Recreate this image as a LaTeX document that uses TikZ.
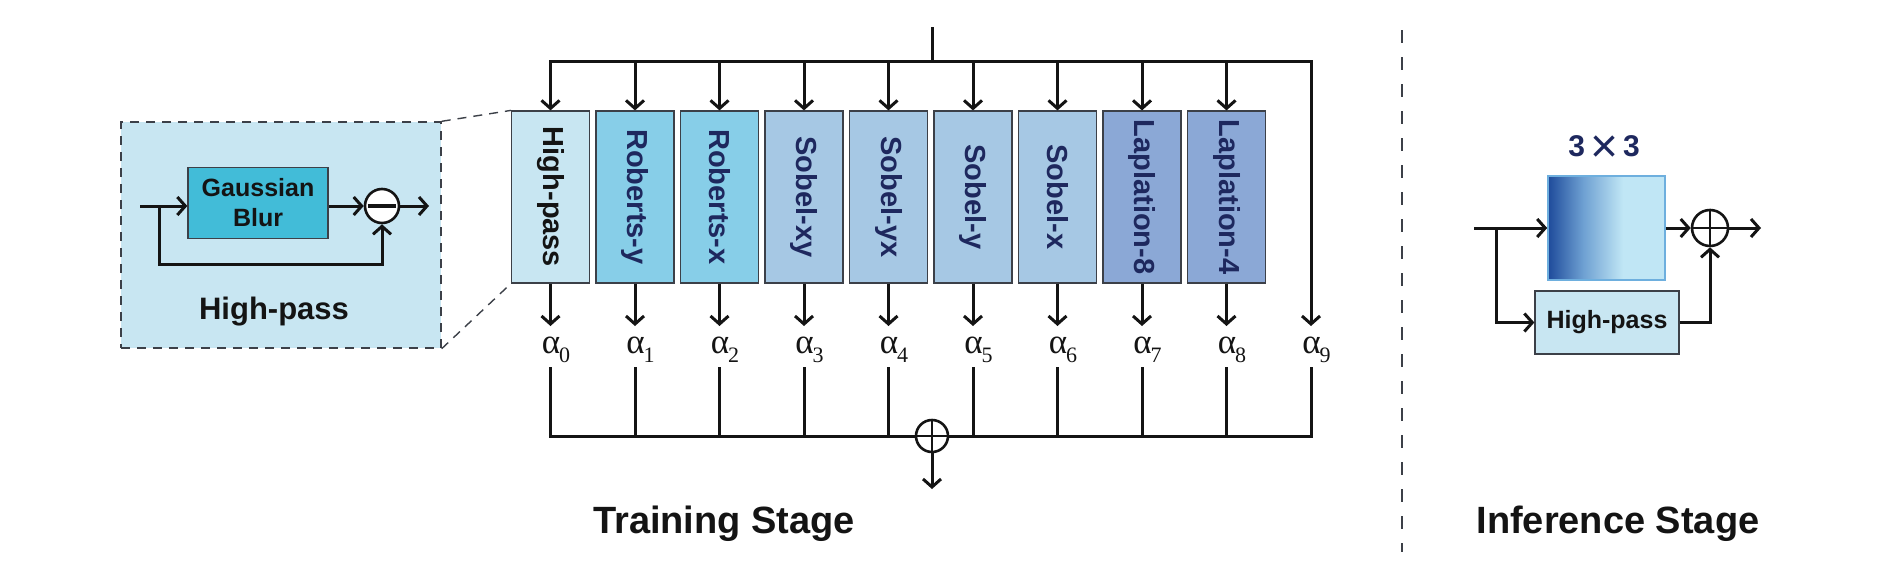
\documentclass[tikz,border=0pt]{standalone}
\usepackage{fontspec}
\usepackage{graphicx}
\setmainfont{Liberation Sans}
\newfontfamily\alphafont{Liberation Serif}
\usetikzlibrary{arrows.meta,calc}
\definecolor{cHP}{RGB}{200,230,242}
\definecolor{cRob}{RGB}{135,206,232}
\definecolor{cSob}{RGB}{166,200,228}
\definecolor{cLap}{RGB}{139,168,214}
\definecolor{cGau}{RGB}{66,188,216}
\definecolor{cNavy}{RGB}{30,40,94}
\definecolor{cInk}{RGB}{20,20,20}
\definecolor{cEdge}{RGB}{60,64,72}
\definecolor{kdark}{RGB}{30,75,155}
\definecolor{kmid}{RGB}{110,160,210}
\definecolor{klight}{RGB}{192,230,245}
\definecolor{kborder}{RGB}{110,175,222}
\pgfdeclarehorizontalshading{kshade}{100bp}{color(0bp)=(kdark); color(25bp)=(kdark); color(40bp)=(kmid); color(57bp)=(klight); color(100bp)=(klight)}
\newcommand\lblfont{\bfseries\fontsize{29}{34}\selectfont}
\newcommand\alphalbl[1]{{\alphafont\fontsize{35}{36}\selectfont α\kern-1pt\rlap{\smash{\raisebox{-9pt}{\fontsize{22}{23}\selectfont #1}}}}}
\begin{document}
\begin{tikzpicture}[x=1pt,y=-1pt,
  ln/.style={line width=3pt, draw=cInk},
  arr/.style={ln, -{Straight Barb[length=8pt,width=18pt]}},
  filt/.style={draw=cEdge, line width=1.2pt, minimum width=78pt, minimum height=172pt, inner sep=0pt, font=\lblfont},
  zoomdash/.style={draw=cEdge, line width=1.4pt, dash pattern=on 9pt off 7pt},
  opcircle/.style={circle, draw=cInk, line width=2.6pt, fill=white, inner sep=0pt},
  title/.style={font=\bfseries\fontsize{38}{44}\selectfont, text=cInk}]
\useasboundingbox (0,0) rectangle (1882,579);

% ---------- left panel (High-pass detail) ----------
\node[draw=cEdge, line width=1.4pt, dash pattern=on 9pt off 7pt, fill=cHP, minimum width=320pt, minimum height=226pt, inner sep=0pt] (panel) at (281,235) {};
\node[draw=cEdge, line width=1.3pt, fill=cGau, minimum width=140pt, minimum height=71pt, inner sep=0pt, align=center, text=cInk, font=\bfseries\fontsize{25}{30}\selectfont] (gauss) at (258,203) {Gaussian\\Blur};
\node[opcircle, minimum size=34pt] (minus) at (382,206) {};
\draw[line width=3.5pt, draw=cInk] ($(minus.west)+(4,0)$) -- ($(minus.east)+(-4,0)$);
\coordinate (lin) at (140,206);
\coordinate (lbr) at (159,206);
\coordinate (lout) at (429,206);
\draw[arr] (lin) -- (gauss.west |- lin);
\draw[arr] (lbr) -- ++(0,58) -| (minus.south);
\draw[arr] (gauss.east |- lin) -- (minus.west);
\draw[arr] (minus.east) -- (lout);
\node[text=cInk, font=\bfseries\fontsize{31}{36}\selectfont] (hplbl) at (274,312) {High-pass};

% ---------- filter bank ----------
\foreach \i/\nm/\fc/\tc in {0/High-pass/cHP/cInk, 1/Roberts-y/cRob/cNavy, 2/Roberts-x/cRob/cNavy, 3/Sobel-xy/cSob/cNavy, 4/Sobel-yx/cSob/cNavy, 5/Sobel-y/cSob/cNavy, 6/Sobel-x/cSob/cNavy, 7/Laplation-8/cLap/cNavy, 8/Laplation-4/cLap/cNavy}{
  \node[filt, fill=\fc, text=\tc] (f\i) at ({550.5+84.5*\i},197) {\rotatebox{-90}{\nm}};
}
\draw[zoomdash] (panel.north east) -- (f0.north west);
\draw[zoomdash] (panel.south east) -- (f0.south west);

% top input bus
\coordinate (inT) at (932,27);
\coordinate (busL) at (550.5,61);
\coordinate (busR) at (1311,61);
\foreach \i/\x in {0/550.5,1/635,2/719.5,3/804,4/888.5,5/973,6/1057.5,7/1142,8/1226.5,9/1311}{
  \coordinate (t\i) at (\x,326);
  \coordinate (s\i) at (\x,367);
  \coordinate (b\i) at (\x,436);
  \node[anchor=base, inner sep=0pt, text=cInk] (a\i) at (\x,353) {\alphalbl{\i}};
}
\draw[ln] (inT) -- (inT |- busL);
\draw[arr] (busR) -- (busL) -- (f0.north);
\draw[arr] (busL) -- (busR) -- (t9);
\foreach \i in {1,...,8}{
  \draw[arr] (f\i.north |- busL) -- (f\i.north);
}
\foreach \i in {0,...,8}{
  \draw[arr] (f\i.south) -- (t\i);
}
% bottom summation bus
\draw[ln] (s0) -- (b0) -- (b9) -- (s9);
\foreach \i in {1,...,8}{
  \draw[ln] (s\i) -- (b\i);
}
\node[opcircle, minimum size=32pt] (sum) at (932,436) {};
\draw[line width=2.6pt, draw=cInk] (sum.north) -- (sum.south) (sum.west) -- (sum.east);
\coordinate (sout) at (932,489);
\draw[arr] (sum.south) -- (sout);

\node[title] (ttrain) at (724,524) {Training Stage};

% ---------- separator ----------
\coordinate (sepT) at (1402,30);
\coordinate (sepB) at (1402,552);
\draw[draw=cEdge, line width=2pt, dash pattern=on 13pt off 14pt] (sepT) -- (sepB);

% ---------- inference stage ----------
\node[shading=kshade, draw=kborder, line width=1.6pt, minimum width=117pt, minimum height=104pt, inner sep=0pt] (gk) at (1606.5,228) {};
\node[text=cNavy, font=\bfseries\fontsize{30}{36}\selectfont] (gklbl) at (1604,149) {3\kern5pt{\mdseries\raisebox{-6pt}{\scalebox{1.6}{×}}}\kern5pt3};
\node[draw=cEdge, line width=1.3pt, fill=cHP, minimum width=144pt, minimum height=63pt, inner sep=0pt, text=cInk, font=\bfseries\fontsize{25}{30}\selectfont] (hp2) at (1607,322.5) {High-pass};
\node[opcircle, minimum size=36pt] (plus) at (1710,228) {};
\draw[line width=2.6pt, draw=cInk] (plus.north) -- (plus.south) (plus.west) -- (plus.east);
\coordinate (iin) at (1474,228);
\coordinate (ibr) at (1496,228);
\coordinate (iout) at (1761,228);
\draw[arr] (iin) -- (gk.west);
\draw[arr] (ibr) |- (hp2.west);
\draw[arr] (hp2.east) -| (plus.south);
\draw[arr] (gk.east) -- (plus.west);
\draw[arr] (plus.east) -- (iout);

\node[title] (tinf) at (1618,524) {Inference Stage};
\end{tikzpicture}
\end{document}
